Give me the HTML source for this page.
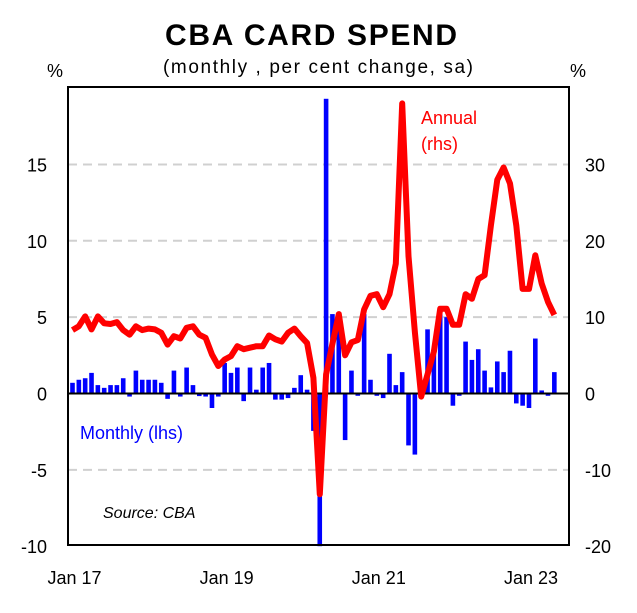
<!DOCTYPE html>
<html><head><meta charset="utf-8"><style>
body{margin:0;background:#fff;}
svg text{font-family:"Liberation Sans",Arial,sans-serif;}
</style></head><body>
<svg width="637" height="608" viewBox="0 0 637 608">
<rect width="637" height="608" fill="#fff"/>
<text x="165" y="45" font-size="30" font-weight="bold" textLength="292" lengthAdjust="spacing">CBA CARD SPEND</text>
<text x="163" y="73" font-size="19" textLength="310" lengthAdjust="spacing">(monthly , per cent change, sa)</text>
<text x="55" y="77" text-anchor="middle" font-size="18">%</text>
<text x="578" y="77" text-anchor="middle" font-size="18">%</text>
<g id="grid"></g>
<g id="bars"></g>
<line x1="68" x2="569" id="zero" stroke="#000" stroke-width="2"/>
<path id="annual" fill="none" stroke="#ff0000" stroke-width="6" stroke-linejoin="round"/>
<rect x="68" y="87" width="501" height="458" fill="none" stroke="#000" stroke-width="2"/>
<g id="ticks"></g>
<text x="80" y="439" font-size="18" fill="#0000ff">Monthly (lhs)</text>
<text x="421" y="124" font-size="18" fill="#ff0000">Annual</text>
<text x="421" y="150" font-size="18" fill="#ff0000">(rhs)</text>
<text x="103" y="518" font-size="16" font-style="italic">Source:  CBA</text>
</svg>
<script>
const monthly=[0.7,0.9,1.0,1.35,0.55,0.37,0.55,0.55,1.0,-0.2,1.5,0.9,0.9,0.9,0.7,-0.35,1.5,-0.2,1.7,0.55,
-0.17,-0.2,-0.95,-0.2,2.0,1.35,1.7,-0.5,1.7,0.25,1.7,2.0,-0.4,-0.4,-0.3,0.37,1.2,0.25,-2.45,-10,
19.3,5.2,5.0,-3.05,1.5,-0.15,5.2,0.9,-0.15,-0.3,2.6,0.55,1.4,-3.4,-4.0,-0.15,4.2,2.6,5.2,5.0,
-0.8,-0.15,3.4,2.2,2.9,1.5,0.4,2.1,1.4,2.8,-0.65,-0.8,-0.95,3.6,0.2,-0.15,1.4];
const annual=[8.3,8.8,10.1,8.4,10.1,9.2,9.1,9.35,8.3,7.7,8.8,8.3,8.5,8.4,7.95,6.4,7.5,7.2,8.6,8.8,
7.7,7.3,5.1,3.6,4.45,4.9,6.2,5.8,6.0,6.2,6.2,7.6,7.1,6.8,7.95,8.5,7.5,6.6,2.05,-13.2,
2.5,6.5,10.4,5.0,6.7,7.0,11.0,12.8,13.0,11.3,13.0,17.0,38.0,18.0,8.0,-0.4,2.5,5.5,11.1,11.1,
9.0,9.0,13.0,12.4,15.0,15.5,22.0,28.0,29.6,27.5,22.0,13.7,13.7,18.1,14.4,12.0,10.3];
const leftTicks=[-10,-5,0,5,10,15];
const rightTicks=[-20,-10,0,10,20,30];
const xLabels=["Jan 17","Jan 19","Jan 21","Jan 23"];
const xLabelMonths=[0,24,48,72];
const NS="http://www.w3.org/2000/svg";
const X=i=>72.5+i*6.34;
const YL=v=>393.5-v*15.27;
const YR=v=>393.5-v*7.635;
function mk(t,a,p){const e=document.createElementNS(NS,t);for(const k in a)e.setAttribute(k,a[k]);p.appendChild(e);return e;}
const grid=document.getElementById('grid'),ticks=document.getElementById('ticks'),bars=document.getElementById('bars');
leftTicks.forEach(v=>{
 if(v!==0&&v!==-10){const g=mk('line',{x1:68,x2:569,y1:YL(v),y2:YL(v),stroke:'#d0d0d0','stroke-width':2,'stroke-dasharray':'9,6'},grid);
 
 }
 const t=mk('text',{x:47,y:YL(v)+7,'text-anchor':'end','font-size':18},ticks);t.textContent=v;
 
 
});
rightTicks.forEach(v=>{
 const t=mk('text',{x:585,y:YR(v)+7,'font-size':18},ticks);t.textContent=v;
 
 
});
xLabels.forEach((s,k)=>{
 const t=mk('text',{x:X(xLabelMonths[k])+2,y:584,'text-anchor':'middle','font-size':18},ticks);t.textContent=s;
 
 
});
monthly.forEach((v,i)=>{
 const y0=YL(0),y1=YL(v);
 const r=mk('rect',{x:X(i)-2.3,width:4.6,y:Math.min(y0,y1),height:Math.abs(y1-y0),fill:'#0000ff'},bars);
 
 
});
const z=document.getElementById('zero');z.setAttribute('y1',YL(0));z.setAttribute('y2',YL(0));
document.getElementById('annual').setAttribute('d',annual.map((v,i)=>(i?'L':'M')+X(i).toFixed(1)+','+YR(v).toFixed(1)).join(''));
</script>
</body></html>
